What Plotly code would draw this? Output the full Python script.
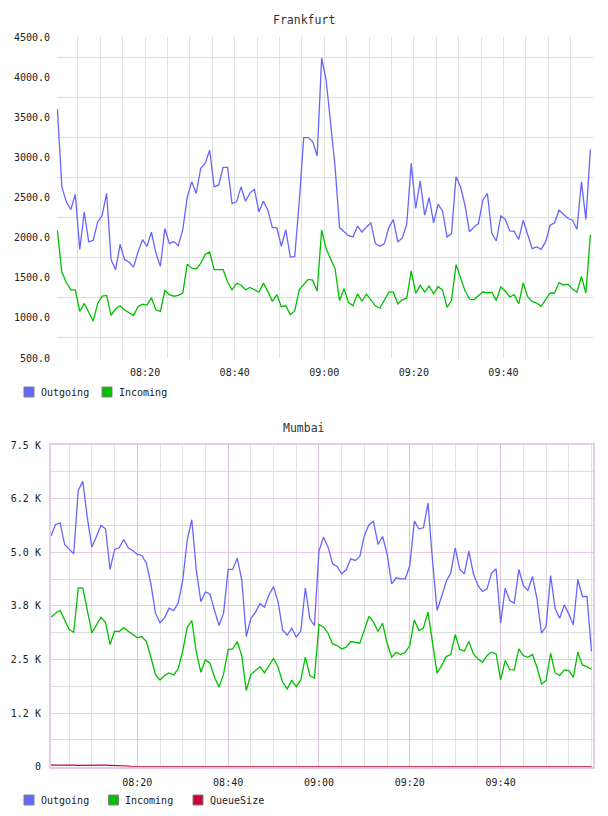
import pandas as pd
import plotly.graph_objects as go

# Frankfurt (1 minute samples)
frankfurt_start = "2024-01-01 08:00:25"
frankfurt_outgoing = [
    3604, 2633, 2446, 2350, 2537, 1854, 2321, 1946, 1967, 2196,
    2279, 2550, 1725, 1600, 1917, 1725, 1696, 1633, 1821, 1975,
    1892, 2067, 1808, 1642, 2113, 1925, 1950, 1900, 2100, 2508,
    2696, 2550, 2863, 2925, 3092, 2633, 2654, 2875, 2875, 2425,
    2446, 2633, 2454, 2558, 2600, 2321, 2454, 2342, 2125, 2125,
    1892, 2100, 1758, 1767, 2450, 3246, 3246, 3196, 3017, 4237,
    3967, 3420, 2880, 2125, 2071, 2025, 2008, 2142, 2067, 2133,
    2183, 1925, 1892, 1925, 2125, 2225, 1946, 1996, 2167, 2925,
    2363, 2708, 2279, 2500, 2183, 2417, 2329, 2008, 2050, 2758,
    2633, 2404, 2071, 2133, 2175, 2467, 2550, 2050, 1958, 2271,
    2229, 2083, 2079, 1979, 2217, 2042, 1863, 1883, 1854, 1946,
    2154, 2183, 2342, 2292, 2238, 2217, 2104, 2696, 2225, 3100,
]
frankfurt_incoming = [
    2090, 1570, 1440, 1350, 1350, 1080, 1180, 1070, 960, 1180,
    1270, 1280, 1030, 1110, 1150, 1100, 1060, 1030, 1140, 1170,
    1160, 1250, 1100, 1080, 1340, 1290, 1270, 1280, 1310, 1670,
    1620, 1610, 1680, 1790, 1820, 1600, 1600, 1600, 1450, 1350,
    1430, 1410, 1350, 1380, 1350, 1320, 1430, 1330, 1205, 1290,
    1140, 1150, 1040, 1090, 1350, 1415, 1480, 1470, 1335, 2095,
    1860, 1735, 1610, 1215, 1365, 1190, 1150, 1300, 1210, 1295,
    1215, 1150, 1120, 1215, 1320, 1320, 1175, 1225, 1245, 1585,
    1305, 1405, 1320, 1395, 1300, 1390, 1345, 1130, 1215, 1665,
    1515, 1340, 1235, 1225, 1275, 1325, 1310, 1320, 1215, 1385,
    1335, 1260, 1290, 1175, 1435, 1265, 1205, 1185, 1145, 1235,
    1310, 1310, 1440, 1410, 1420, 1360, 1320, 1515, 1310, 2035,
]

# Mumbai
mumbai_start = "2024-01-01 08:01:00"
mumbai_outgoing = [
    5376, 5648, 5687, 5181, 5073, 4964, 6442, 6652, 5800, 5120,
    5368, 5625, 5547, 4598, 5065, 5104, 5298, 5104, 5041, 4948,
    4925, 4746, 4263, 3579, 3353, 3470, 3696, 3641, 3812, 4350,
    5290, 5757, 4575, 3850, 4075, 4020, 3645, 3293, 3580, 4600,
    4600, 4860, 4355, 3035, 3453, 3597, 3802, 3717, 4009, 4199,
    3836, 3190, 3064, 3227, 3025, 3161, 4172, 3447, 3291, 5026,
    5353, 5119, 4730, 4668, 4497, 4590, 4847, 4808, 4901, 5392,
    5641, 5718, 5181, 5368, 4964, 4263, 4404, 4380, 4380, 4691,
    5726, 5547, 5570, 6146, 4800, 3641, 3968, 4318, 4512, 5104,
    4600, 4497, 5026, 4497, 4225, 4085, 4147, 4512, 4614, 3345,
    4162, 3874, 3812, 4598, 4225, 4108, 4435, 3913, 3112, 3268,
    4458, 3680, 3462, 3773, 3563, 3306, 4365, 3968, 3968, 2690,
]
mumbai_incoming = [
    3485, 3579, 3641, 3408, 3198, 3135, 4162, 4170, 3641, 3120,
    3307, 3485, 3369, 2847, 3159, 3151, 3236, 3159, 3081, 3003,
    3034, 2918, 2552, 2147, 2023, 2124, 2186, 2140, 2280, 2700,
    3252, 3408, 2669, 2202, 2490, 2412, 2085, 1852, 2163, 2731,
    2746, 2918, 2591, 1774, 2147, 2241, 2334, 2186, 2357, 2529,
    2318, 1968, 1813, 2008, 1867, 2023, 2552, 2124, 2062, 3314,
    3252, 3112, 2863, 2824, 2746, 2785, 2918, 2902, 2879, 3190,
    3501, 3369, 3151, 3345, 2879, 2552, 2669, 2614, 2669, 2824,
    3423, 3174, 3236, 3602, 2886, 2178, 2357, 2567, 2614, 3081,
    2735, 2692, 2918, 2630, 2513, 2435, 2591, 2669, 2630, 2023,
    2474, 2264, 2256, 2746, 2591, 2552, 2614, 2318, 1929, 2007,
    2645, 2186, 2124, 2256, 2241, 2085, 2669, 2373, 2334, 2272,
]
mumbai_queue = [
    35, 38, 36, 34, 37, 35, 33, 36, 38, 35,
    34, 36, 35, 33, 32, 30, 28, 15, 0, 0,
    0, 0, 0, 0, 0, 0, 0, 0, 0, 0,
    0, 5, 8, 4, 0, 0, 0, 0, 0, 0,
    0, 0, 0, 0, 0, 0, 0, 0, 0, 0,
    0, 0, 0, 0, 0, 0, 0, 0, 0, 0,
    0, 0, 0, 0, 0, 0, 0, 0, 0, 0,
    0, 0, 0, 0, 0, 0, 0, 0, 0, 0,
    0, 0, 0, 0, 0, 0, 0, 0, 0, 0,
    0, 0, 0, 0, 0, 0, 0, 0, 0, 0,
    0, 0, 0, 0, 0, 0, 0, 0, 0, 0,
    0, 0, 0, 0, 0, 0, 0, 0, 0, 0,
]

time_labels = ["08:20", "08:40", "09:00", "09:20", "09:40"]
frankfurt_yticks = [500, 1000, 1500, 2000, 2500, 3000, 3500, 4000, 4500]
mumbai_yticks = [0, 1250, 2500, 3750, 5000, 6250, 7500]
mumbai_ylabels = ["0", "1.2 K", "2.5 K", "3.8 K", "5.0 K", "6.2 K", "7.5 K"]

frankfurt_time = pd.date_range(frankfurt_start, periods=len(frankfurt_outgoing), freq="1min")
mumbai_time = pd.date_range(mumbai_start, periods=len(mumbai_outgoing), freq="1min")
tick_times = ["2024-01-01 " + t for t in time_labels]

MONO = "DejaVu Sans Mono"
BLUE = "#6666ff"
GREEN = "#00c000"
RED = "#cc0033"
GRID = "#e2e2e2"
PINK = "#e4cce4"

# page body adds 8px, so the figure is 600x808 and pixel positions are shifted by 8
W, H = 600, 808


def px(x):
    return (x - 8) / W


def py(y):
    return 1 - (y - 8) / H


frankfurt_series = [("Outgoing", frankfurt_outgoing, BLUE), ("Incoming", frankfurt_incoming, GREEN)]
mumbai_series = [("Outgoing", mumbai_outgoing, BLUE), ("Incoming", mumbai_incoming, GREEN),
                 ("QueueSize", mumbai_queue, RED)]

fig = go.Figure()
for name, vals, color in frankfurt_series:
    fig.add_trace(go.Scatter(x=frankfurt_time, y=vals, name=name, mode="lines",
                             line=dict(color=color, width=1.3), xaxis="x", yaxis="y"))
for name, vals, color in mumbai_series:
    fig.add_trace(go.Scatter(x=mumbai_time, y=vals, name=name, mode="lines",
                             line=dict(color=color, width=1.3), xaxis="x2", yaxis="y2"))

# legends drawn as boxes + labels under each chart
shapes = []
annotations = []
legend_rows = [(frankfurt_series, 392, [24, 102]), (mumbai_series, 800, [24, 108.5, 193])]
for series, y_mid, xs in legend_rows:
    for (name, _, color), x0 in zip(series, xs):
        shapes.append(dict(type="rect", xref="paper", yref="paper",
                           x0=px(x0), x1=px(x0 + 10), y0=py(y_mid + 5), y1=py(y_mid - 5),
                           fillcolor=color, line=dict(color="#808080", width=1)))
        annotations.append(dict(text=name, x=px(x0 + 14.5), y=py(y_mid), xref="paper", yref="paper",
                                xanchor="left", yanchor="middle", showarrow=False,
                                font=dict(family=MONO, size=10, color="#222222")))

for title, y_mid in [("Frankfurt", 20), ("Mumbai", 428)]:
    annotations.append(dict(text=title, x=px(304), y=py(y_mid), xref="paper", yref="paper",
                            xanchor="center", yanchor="middle", showarrow=False,
                            font=dict(family=MONO, size=11.5, color="#333333")))

tickfont = dict(family=MONO, size=10, color="#222222")

fig.update_layout(
    width=W, height=H,
    margin=dict(l=0, r=0, t=0, b=0),
    paper_bgcolor="white", plot_bgcolor="white",
    font=dict(family=MONO, size=10, color="#222222"),
    showlegend=False,
    hovermode=False,
    xaxis=dict(domain=[px(57), px(593)], anchor="y",
               range=["2024-01-01 08:00:20", "2024-01-01 10:00:00"],
               tickvals=tick_times, ticktext=time_labels, tickfont=tickfont,
               showgrid=True, gridcolor=GRID, zeroline=False, ticks="",
               ticklabelstandoff=7,
               minor=dict(tick0="2024-01-01 08:00", dtick=300000, showgrid=True, gridcolor=GRID),
               automargin=False),
    yaxis=dict(domain=[py(358), py(37)], anchor="x",
               range=[500, 4500], tickvals=frankfurt_yticks, tickformat=".1f",
               tickfont=tickfont, showgrid=False, zeroline=False, ticks="",
               ticklabelstandoff=6,
               minor=dict(tick0=750, dtick=500, showgrid=True, gridcolor="#dcdcdc"),
               automargin=False),
    xaxis2=dict(domain=[px(50.7), px(593)], anchor="y2",
                range=["2024-01-01 08:00:56", "2024-01-01 10:00:20"],
                tickvals=tick_times, ticktext=time_labels, tickfont=tickfont,
                showgrid=True, gridcolor="#dcc4dc", zeroline=False, ticks="",
                showline=True, linecolor=PINK, linewidth=1.5, mirror=True,
                ticklabelstandoff=6,
                minor=dict(tick0="2024-01-01 08:00", dtick=300000, showgrid=True, gridcolor=GRID),
                automargin=False),
    yaxis2=dict(domain=[py(766.7), py(445)], anchor="x2",
                range=[0, 7500], tickvals=mumbai_yticks, ticktext=mumbai_ylabels,
                tickfont=tickfont, showgrid=True, gridcolor=PINK, zeroline=False, ticks="",
                showline=True, linecolor=PINK, linewidth=1.5, mirror=True,
                ticklabelstandoff=6,
                minor=dict(tick0=625, dtick=1250, showgrid=True, gridcolor="#dcdcdc"),
                automargin=False),
    shapes=shapes,
    annotations=annotations,
)

fig.write_html("out.html")
